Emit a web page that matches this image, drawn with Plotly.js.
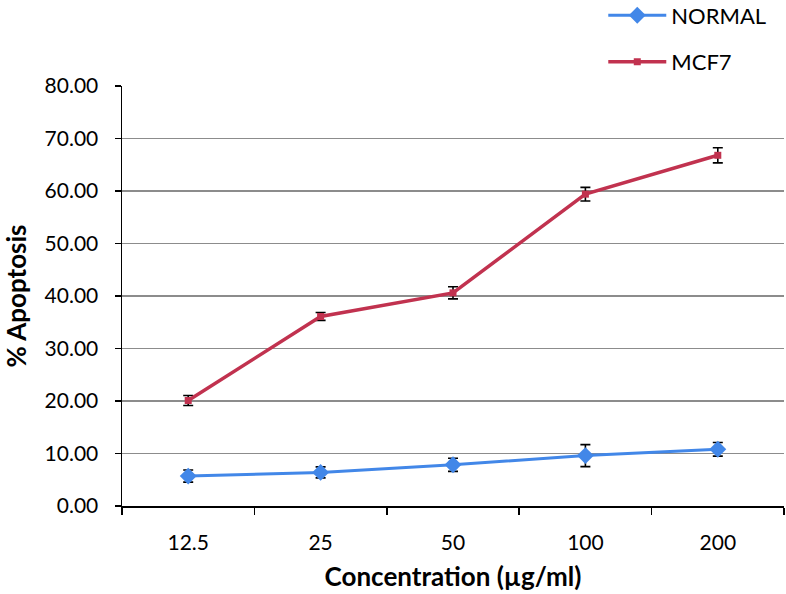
<!DOCTYPE html>
<html>
<head>
<meta charset="utf-8">
<script src="https://cdn.plot.ly/plotly-3.0.1.min.js"></script>
<style>html,body{margin:0;padding:0;background:#fff;}#chart{width:786px;height:594px;}</style>
</head>
<body>
<div id="chart"></div>
<script>
const concentrations = ["12.5", "25", "50", "100", "200"];
const normalValues = [5.7, 6.4, 7.85, 9.6, 10.8];
const normalErrors = [1.15, 1.05, 1.25, 2.1, 1.3];
const mcf7Values = [20.1, 36.1, 40.6, 59.4, 66.8];
const mcf7Errors = [0.95, 0.75, 1.15, 1.3, 1.45];
const yTickVals = [0, 10, 20, 30, 40, 50, 60, 70, 80];
const yTickText = ["0.00", "10.00", "20.00", "30.00", "40.00", "50.00", "60.00", "70.00", "80.00"];

const fontFam = "Lato, 'Open Sans', sans-serif";

const traces = [
  {
    x: concentrations, y: normalValues, name: "NORMAL", type: "scatter", mode: "lines+markers",
    legendgroup: "a",
    line: {color: "#4287e8", width: 3},
    marker: {symbol: "diamond", size: 13, color: "#4287e8"},
    error_y: {type: "data", array: normalErrors, visible: true, color: "#000", thickness: 1.6, width: 5}
  },
  {
    x: concentrations, y: mcf7Values, name: "MCF7", type: "scatter", mode: "lines+markers",
    legendgroup: "b",
    line: {color: "#c1324f", width: 3.5},
    marker: {symbol: "square", size: 7, color: "#c1324f"},
    error_y: {type: "data", array: mcf7Errors, visible: true, color: "#000", thickness: 1.6, width: 5}
  }
];

const layout = {
  width: 786, height: 594,
  margin: {l: 122, r: 2, t: 86, b: 88, autoexpand: false},
  paper_bgcolor: "#fff", plot_bgcolor: "#fff",
  font: {family: fontFam, size: 21, color: "#000"},
  showlegend: true,
  legend: {
    x: 0.727, y: 1.218, xanchor: "left", yanchor: "top",
    traceorder: "grouped", tracegroupgap: 15,
    itemwidth: 58,
    font: {family: fontFam, size: 22, color: "#000"},
    bgcolor: "rgba(0,0,0,0)"
  },
  xaxis: {
    type: "category",
    range: [-0.5, 4.5],
    tickson: "boundaries",
    ticks: "outside", ticklen: 7, tickwidth: 1.5, tickcolor: "#000",
    showline: true, linecolor: "#000", linewidth: 1.5,
    showgrid: false, zeroline: false,
    tickfont: {family: fontFam, size: 21},
    ticklabelstandoff: 17,
    title: {text: "<b>Concentration (µg/ml)</b>", font: {family: fontFam, size: 26}, standoff: 15}
  },
  yaxis: {
    range: [0, 80],
    tickvals: yTickVals, ticktext: yTickText,
    ticks: "outside", ticklen: 6, tickwidth: 1.5, tickcolor: "#000",
    showline: true, linecolor: "#000", linewidth: 1.5,
    showgrid: true, gridcolor: "#8c8c8c", gridwidth: 1.5,
    zeroline: false,
    tickfont: {family: fontFam, size: 21},
    ticklabelstandoff: 12,
    title: {text: "<b>% Apoptosis</b>", font: {family: fontFam, size: 26}, standoff: 12}
  }
};

Plotly.newPlot("chart", traces, layout, {displayModeBar: false, staticPlot: true});
</script>
</body>
</html>
